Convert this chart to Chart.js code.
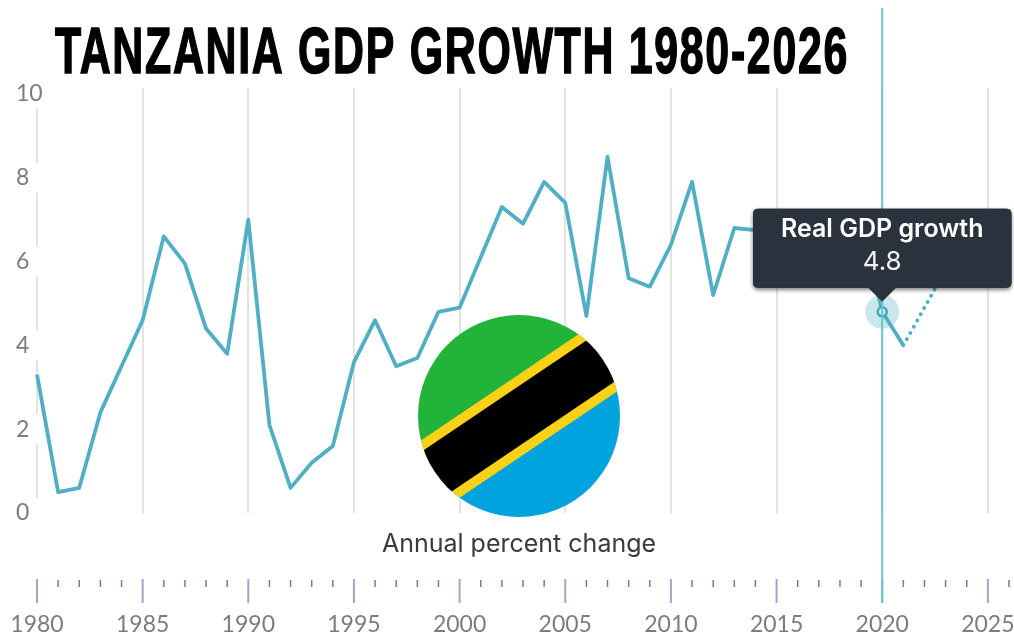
<!DOCTYPE html>
<html>
<head>
<meta charset="utf-8">
<title>Tanzania GDP growth</title>
<script src="https://cdn.jsdelivr.net/npm/chart.js@4/dist/chart.umd.min.js"></script>
<style>
	html, body { margin: 0; padding: 0; background: #fff; }
	canvas { display: block; }
</style>
</head>
<body>
<canvas id="gdpChart" width="1014" height="640"></canvas>
<script>
const years = [1980,1981,1982,1983,1984,1985,1986,1987,1988,1989,
	1990,1991,1992,1993,1994,1995,1996,1997,1998,1999,
	2000,2001,2002,2003,2004,2005,2006,2007,2008,2009,
	2010,2011,2012,2013,2014,2015,2016,2017,2018,2019,
	2020,2021,2022,2023,2024,2025,2026];
const growth = [3.3,0.5,0.6,2.4,3.5,4.6,6.6,5.95,4.4,3.8,
	7.0,2.1,0.6,1.2,1.6,3.6,4.6,3.5,3.7,4.8,
	4.9,6.1,7.3,6.9,7.9,7.4,4.7,8.5,5.6,5.4,
	6.4,7.9,5.2,6.8,6.75,6.2,6.9,6.8,7.0,7.0,
	4.8,4.0,4.9,5.8,6.0,6.1,6.2];
const yTickValues = [0,2,4,6,8,10];
const titleText = "TANZANIA GDP GROWTH 1980-2026";
const seriesName = "Real GDP growth";
const unitText = "Annual percent change";
const activeYear = 2020;
const lastActualYear = 2021;

const activeIndex = years.indexOf(activeYear);
const lastActualIndex = years.indexOf(lastActualYear);
const LINE = "#50afc4";
const FONT = "Lato, 'Open Sans', sans-serif";
const TEXT_FONT = "Inter, Lato, sans-serif";

// title, flag and the bottom ruler are not something the scales draw on their own
const decorations = {
	id: "decorations",
	beforeDatasetsDraw(chart) {
		const el = chart.getDatasetMeta(0).data[activeIndex];
		const c = chart.ctx;
		c.save();
		c.fillStyle = "rgba(80,175,196,0.3)";
		c.beginPath();
		c.arc(el.x, el.y, 17, 0, Math.PI * 2);
		c.fill();
		c.restore();
	},
	afterDatasetsDraw(chart) {
		const c = chart.ctx;
		const x = chart.scales.x;
		c.save();

		// ruler under the plot
		years.forEach((y, i) => {
			const px = x.getPixelForValue(i);
			const major = y % 5 === 0;
			c.strokeStyle = major ? "#9fa6c9" : "#7579a8";
			c.lineWidth = major ? 2 : 1.5;
			c.beginPath();
			c.moveTo(px, major ? 579 : 580);
			c.lineTo(px, major ? 603 : 587);
			c.stroke();
		});

		// crosshair
		const cx = x.getPixelForValue(activeIndex);
		c.strokeStyle = "#6cc5cd";
		c.lineWidth = 2;
		c.beginPath();
		c.moveTo(cx, 8);
		c.lineTo(cx, 603);
		c.stroke();

		// flag
		c.save();
		c.translate(519, 416);
		c.beginPath();
		c.arc(0, 0, 101, 0, Math.PI * 2);
		c.clip();
		c.rotate(-34 * Math.PI / 180);
		c.fillStyle = "#22b43a";
		c.fillRect(-120, -120, 240, 120);
		c.fillStyle = "#00a3dd";
		c.fillRect(-120, 0, 240, 120);
		c.fillStyle = "#fcd116";
		c.fillRect(-120, -34.5, 240, 69);
		c.fillStyle = "#000";
		c.fillRect(-120, -25, 240, 50);
		c.restore();

		c.fillStyle = "#3a3a3a";
		c.font = "25px " + TEXT_FONT;
		c.textAlign = "center";
		c.textBaseline = "middle";
		c.fillText(unitText, 519, 544);

		// heading, squeezed to a condensed look
		c.fillStyle = "#000";
		c.font = "bold 64px 'Liberation Sans Narrow', 'Liberation Sans', sans-serif";
		c.letterSpacing = "2.5px";
		c.textAlign = "left";
		c.textBaseline = "alphabetic";
		c.lineWidth = 1.5;
		c.strokeStyle = "#000";
		const w = c.measureText(titleText).width;
		c.translate(55, 73);
		c.scale(794 / w, 1);
		c.fillText(titleText, 0, 0);
		c.strokeText(titleText, 0, 0);
		c.letterSpacing = "0px";
		c.restore();
	},
	beforeTooltipDraw(chart, args) {
		const t = args.tooltip;
		const c = chart.ctx;
		c.save();
		c.shadowColor = "rgba(0,0,0,0.55)";
		c.shadowBlur = 4;
		c.shadowOffsetY = 2;
		c.fillStyle = "#2a333d";
		c.beginPath();
		c.roundRect(t.x, t.y, t.width, t.height, 5);
		c.fill();
		c.restore();
	}
};

const chart = new Chart(document.getElementById("gdpChart"), {
	type: "line",
	plugins: [decorations],
	data: {
		labels: years,
		datasets: [{
			label: seriesName,
			data: growth,
			borderColor: LINE,
			borderWidth: 3.8,
			borderJoinStyle: "round",
			tension: 0,
			pointRadius: 0,
			pointHoverRadius: 4.5,
			pointHoverBorderWidth: 2.5,
			pointHoverBorderColor: "#3fa7b8",
			pointHoverBackgroundColor: "#d5edf1",
			segment: {
				// projections are dotted
				borderDash: ctx => ctx.p0DataIndex >= lastActualIndex ? [0.1, 7] : undefined,
				borderCapStyle: ctx => ctx.p0DataIndex >= lastActualIndex ? "round" : "butt"
			}
		}]
	},
	options: {
		responsive: false,
		animation: false,
		events: [],
		layout: { padding: { left: 37, right: 5, top: 88, bottom: 0 } },
		scales: {
			x: {
				border: { display: false },
				afterFit: s => {
					s.height = 127;
					s.paddingLeft = 0;
					s.paddingRight = 0;
				},
				grid: {
					drawTicks: false,
					lineWidth: 2,
					color: ctx => ctx.index % 5 === 0 ? "#e3e3e3" : "rgba(0,0,0,0)"
				},
				ticks: {
					autoSkip: false,
					maxRotation: 0,
					padding: 98,
					color: "#7c7c7c",
					font: { family: FONT, size: 23 },
					callback: function (v, i) { return years[i] % 5 === 0 ? String(years[i]) : ""; }
				}
			},
			y: {
				min: 0,
				max: 10.14,
				border: { display: false },
				afterFit: s => {
					s.width = 0;
					s.paddingTop = 0;
					s.paddingBottom = 0;
				},
				afterBuildTicks: s => { s.ticks = yTickValues.map(v => ({ value: v })); },
				grid: { display: false, drawTicks: false },
				ticks: {
					mirror: true,
					z: 1,
					padding: -21,
					color: "#7c7c7c",
					font: { family: FONT, size: 23 },
					showLabelBackdrop: true,
					backdropColor: "#fff",
					backdropPadding: { top: 1, bottom: 1, left: 0, right: 12 }
				}
			}
		},
		plugins: {
			legend: { display: false },
			title: { display: false },
			tooltip: {
				enabled: true,
				xAlign: "center",
				yAlign: "bottom",
				backgroundColor: "#2a333d",
				cornerRadius: 5,
				caretSize: 14,
				caretPadding: 10,
				displayColors: false,
				padding: { top: 6, bottom: 9.8, left: 28, right: 28 },
				titleAlign: "center",
				bodyAlign: "center",
				titleColor: "#fff",
				bodyColor: "#f2f2f2",
				titleMarginBottom: 2,
				titleFont: { family: TEXT_FONT, size: 25, weight: "600" },
				bodyFont: { family: TEXT_FONT, size: 26, weight: "normal" },
				callbacks: {
					title: () => seriesName,
					label: ctx => String(ctx.parsed.y)
				}
			}
		}
	}
});

const activeEl = chart.getDatasetMeta(0).data[activeIndex];
chart.setActiveElements([{ datasetIndex: 0, index: activeIndex }]);
chart.tooltip.setActiveElements([{ datasetIndex: 0, index: activeIndex }], { x: activeEl.x, y: activeEl.y });
chart.update("none");
</script>
</body>
</html>
